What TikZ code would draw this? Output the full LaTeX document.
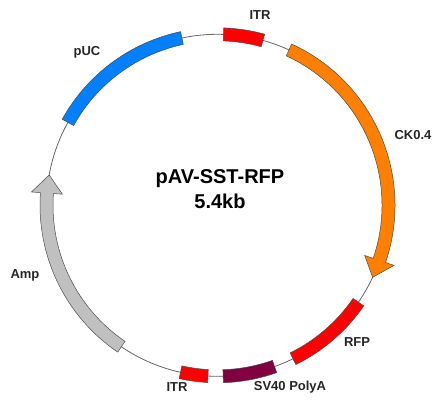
\documentclass[tikz,border=0pt]{standalone}
\usepackage{fontspec}
\setmainfont{Liberation Sans}
\usepackage{tikz}
\tikzset{
  x=1pt, y=1pt,
  backbone/.style={draw=black!60, line width=0.8pt},
  feature/.style={draw=black!70, line width=0.5pt},
  maplabel/.style={font=\bfseries\fontsize{13}{13}\selectfont, text=black!85},
  maptitle/.style={font=\bfseries\fontsize{20}{25}\selectfont, align=center}
}
\definecolor{itrred}{RGB}{255,0,0}
\definecolor{ckorange}{RGB}{255,128,0}
\definecolor{pucblue}{RGB}{0,128,255}
\definecolor{polyapurple}{RGB}{128,0,64}
\definecolor{ampgray}{RGB}{192,192,192}
% block on the ring: colour, start angle, end angle
\newcommand{\feat}[3]{
  \filldraw[feature, fill=#1] (#2:177.5pt) arc[start angle=#2, end angle=#3, radius=177.5pt]
    -- (#3:164.5pt) arc[start angle=#3, end angle=#2, radius=164.5pt] -- cycle;
}
% arrow on the ring: colour, start angle, head angle, tip angle
\newcommand{\featarrow}[4]{
  \filldraw[feature, fill=#1] (#2:177.5pt) arc[start angle=#2, end angle=#3, radius=177.5pt]
    -- (#3:186.5pt) -- (#4:171pt) -- (#3:155.5pt)
    -- (#3:164.5pt) arc[start angle=#3, end angle=#2, radius=164.5pt] -- cycle;
}

\begin{document}
\begin{tikzpicture}
    \useasboundingbox (-217.5,-199.7) rectangle (224.5,205.3);
    \draw[backbone] (0,0) circle[radius=171pt];
    % features
    \feat{itrred}{88}{74.6}
    \featarrow{ckorange}{65.3}{-18.8}{-24.9}
    \feat{itrred}{-34.5}{-63.8}
    \feat{polyapurple}{-70.5}{-88.1}
    \feat{itrred}{-93.2}{-102.5}
    \featarrow{ampgray}{235.8}{175.9}{169.8}
    \feat{pucblue}{151}{102}
    % labels
    \node[maptitle] (title) at (2.5,15.8) {pAV-SST-RFP\\5.4kb};
    \node[maplabel] (itrtop) at (42.5,190.3) {ITR};
    \node[maplabel] (ck) at (195.5,70.3) {CK0.4};
    \node[maplabel] (rfp) at (139.5,-136.7) {RFP};
    \node[maplabel] (polya) at (72.5,-181.7) {SV40 PolyA};
    \node[maplabel] (itrbottom) at (-40.5,-181.7) {ITR};
    \node[maplabel] (amp) at (-192.5,-69.7) {Amp};
    \node[maplabel] (puc) at (-130.5,153.3) {pUC};
\end{tikzpicture}
\end{document}
